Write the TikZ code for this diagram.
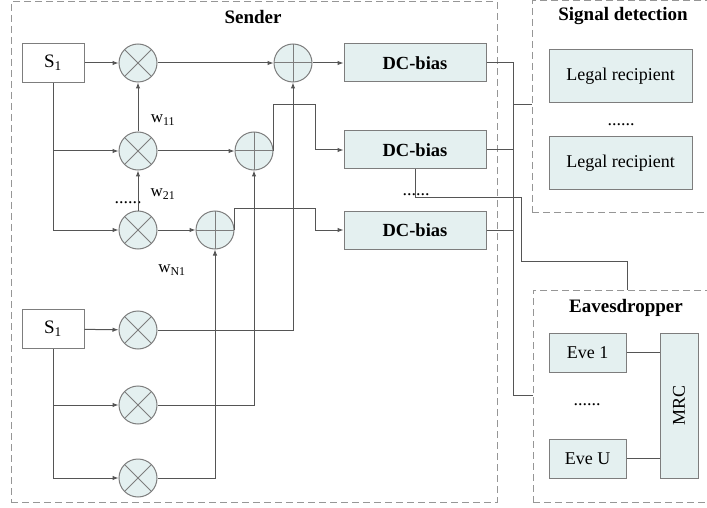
\documentclass[tikz,border=0pt]{standalone}
\usepackage{fontspec}
\setmainfont{Liberation Serif}
\usetikzlibrary{arrows.meta,calc}
\definecolor{boxfill}{RGB}{228,240,240}
\definecolor{boxline}{RGB}{125,125,125}
\definecolor{wire}{RGB}{85,85,85}
\definecolor{dashc}{RGB}{150,150,150}
\tikzset{
  wire/.style={draw=wire, line width=1pt},
  arr/.style={wire, -{Latex[length=6pt,width=4.5pt]}},
  dashbox/.style={draw=dashc, line width=1pt, dash pattern=on 7pt off 4pt, inner sep=0pt},
  titlelbl/.style={font=\bfseries\fontsize{19}{21}\selectfont, inner sep=0pt},
  srcbox/.style={draw=boxline, fill=white, line width=1pt, inner sep=0pt, minimum width=62pt, minimum height=39pt, font=\fontsize{19}{21}\selectfont},
  dcbox/.style={draw=boxline, fill=boxfill, line width=1pt, inner sep=0pt, minimum width=142pt, minimum height=38pt, font=\bfseries\fontsize{18.5}{20}\selectfont},
  lightbox/.style={draw=boxline, fill=boxfill, line width=1pt, inner sep=0pt, font=\fontsize{18}{20}\selectfont},
  mult/.style={circle, draw=boxline, fill=boxfill, line width=1pt, minimum size=38pt, inner sep=0pt,
    path picture={\draw[boxline, line width=1pt] (path picture bounding box.north west) -- (path picture bounding box.south east)
      (path picture bounding box.north east) -- (path picture bounding box.south west);}},
  adder/.style={circle, draw=boxline, fill=boxfill, line width=1pt, minimum size=38pt, inner sep=0pt,
    path picture={\draw[boxline, line width=1pt] (path picture bounding box.north) -- (path picture bounding box.south)
      (path picture bounding box.east) -- (path picture bounding box.west);}},
  wlbl/.style={font=\fontsize{17}{19}\selectfont, inner sep=0pt},
  dotslbl/.style={font=\fontsize{18}{20}\selectfont, inner sep=0pt, anchor=base},
}
\begin{document}
\begin{tikzpicture}[x=1pt,y=-1pt]
\useasboundingbox (0,0) rectangle (707,508);
\clip (0,0) rectangle (707,508);

% containers
\node[dashbox, minimum width=486pt, minimum height=500pt] (sender) at (254,252) {};
\node[dashbox, minimum width=188pt, minimum height=211pt] (sig) at (626,106.5) {};
\node[dashbox, minimum width=187pt, minimum height=212pt] (eaves) at (626.5,396) {};
\node[titlelbl] (tsend) at (253,17) {Sender};
\node[titlelbl] (tsig) at (623,16) {Signal detection};
\node[titlelbl] (teave) at (626,308) {Eavesdropper};

% sources
\node[srcbox] (s1a) at (53,63) {S\textsubscript{1}};
\node[srcbox] (s1b) at (53,329) {S\textsubscript{1}};

% multipliers
\node[mult] (m1) at (138,63) {};
\node[mult] (m2) at (138,151) {};
\node[mult] (m3) at (138,230) {};
\node[mult] (m4) at (138,330) {};
\node[mult] (m5) at (138,405) {};
\node[mult] (m6) at (138,478) {};

% adders
\node[adder] (a1) at (293,63) {};
\node[adder] (a2) at (254,151) {};
\node[adder] (a3) at (215,230) {};

% DC-bias
\node[dcbox] (d1) at (415,63) {DC-bias};
\node[dcbox] (d2) at (415,150) {DC-bias};
\node[dcbox] (d3) at (415,230) {DC-bias};

% labels
\node[wlbl] (w11) at (163,120) {w\textsubscript{11}};
\node[wlbl] (w21) at (163,194) {w\textsubscript{21}};
\node[wlbl] (wn1) at (172,270) {w\textsubscript{N1}};
\node[dotslbl] (dl) at (128,203) {......};
\node[dotslbl] (dd) at (416,195) {......};

% receivers
\node[lightbox, minimum width=143pt, minimum height=53pt] (l1) at (620.5,76.5) {Legal recipient};
\node[lightbox, minimum width=143pt, minimum height=52pt] (l2) at (620.5,163) {Legal recipient};
\node[dotslbl] (dr) at (621,126) {......};
\node[lightbox, minimum width=77pt, minimum height=39pt] (e1) at (587.5,352.5) {Eve 1};
\node[lightbox, minimum width=77pt, minimum height=39pt] (e2) at (587.5,458.5) {Eve U};
\node[dotslbl] (de) at (587,405) {......};
\node[lightbox, minimum width=38pt, minimum height=145pt] (mrc) at (679,405.5) {\rotatebox{90}{MRC}};

% upper source wiring
\draw[arr] (s1a) -- (m1);
\draw[arr] (s1a.south) |- (m3);
\draw[arr] (s1a.south |- m2) -- (m2);
\draw[arr] (m2) -- (m1);
\draw[arr] (m3) -- (m2);
\draw[arr] (m1) -- (a1);
\draw[arr] (m2) -- (a2);
\draw[arr] (m3) -- (a3);

% lower source wiring
\draw[arr] (s1b) -- (m4);
\draw[arr] (s1b.south) |- (m6);
\draw[arr] (s1b.south |- m5) -- (m5);
\draw[arr] (m4) -| (a1);
\draw[arr] (m5) -| (a2);
\draw[arr] (m6) -| (a3);

% adders to DC-bias
\coordinate (j2) at (315,105);
\coordinate (j3) at (315,208);
\draw[arr] (a1) -- (d1);
\draw[arr] (a2.east) |- (j2) |- (d2);
\draw[arr] (a3.east) |- (j3) |- (d3);

% output bus
\coordinate (bus) at (513,395);
\coordinate (bj) at (513,105);
\draw[wire] (d1.east) -| (bus) -- (eaves.west |- bus);
\draw[wire] (d2) -- (d2 -| bus);
\draw[wire] (d3) -- (d3 -| bus);
\draw[wire] (bj) -- (bj -| sig.west);

% branch to eavesdropper
\coordinate (c1) at (521,197);
\coordinate (c2) at (627,261);
\draw[wire] (d2.south) |- (c1) |- (c2) -- (c2 |- eaves.north);

% eve to MRC
\draw[wire] (e1) -- (e1 -| mrc.west);
\draw[wire] (e2) -- (e2 -| mrc.west);
\end{tikzpicture}
\end{document}
